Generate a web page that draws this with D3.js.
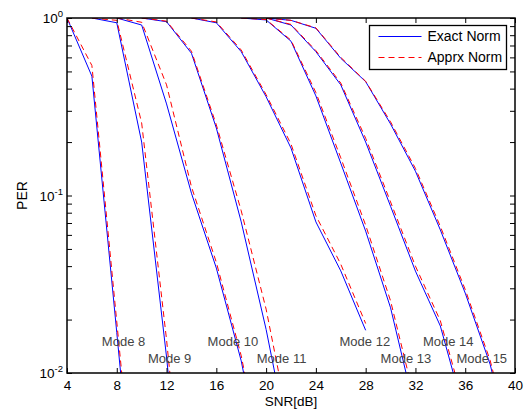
<!DOCTYPE html>
<html>
<head>
<meta charset="utf-8">
<script src="https://cdn.jsdelivr.net/npm/d3@7"></script>
<style>
body { margin: 0; background: #fff; }
text { font-family: "Liberation Sans", Arial, sans-serif; }
</style>
</head>
<body>
<div id="container"></div>
<script>
// chart values
var modeNames = ["Mode 8", "Mode 9", "Mode 10", "Mode 11", "Mode 12", "Mode 13", "Mode 14", "Mode 15"];
var snrStart = [4, 6, 8, 10, 14, 18, 20, 20];   // first SNR of each curve, 2 dB steps
var exactPer = [
  [1, 0.47, 0.0169, 0.00058],
  [1, 0.94, 0.2, 0.0123, 0.0005],
  [1, 0.913, 0.328, 0.103, 0.039, 0.0117, 0.0023],
  [1, 0.953, 0.633, 0.24, 0.071, 0.0176, 0.0035],
  [1, 0.94, 0.646, 0.36, 0.185, 0.071, 0.0376, 0.0174],
  [1, 0.975, 0.74, 0.364, 0.152, 0.063, 0.0233, 0.006],
  [1, 0.913, 0.646, 0.42, 0.2, 0.087, 0.0375, 0.0184, 0.0057],
  [1, 0.97, 0.875, 0.593, 0.438, 0.253, 0.137, 0.064, 0.0282, 0.0112, 0.003]
];
var apprxPer = [
  [1, 0.54, 0.0194, 0.0007],
  [1, 0.97, 0.256, 0.0154, 0.0006],
  [1, 0.946, 0.42, 0.112, 0.042, 0.0125, 0.0025],
  [1, 0.96, 0.65, 0.25, 0.082, 0.0229, 0.0045],
  [1, 0.95, 0.66, 0.37, 0.195, 0.077, 0.041, 0.019],
  [1, 0.98, 0.75, 0.38, 0.163, 0.068, 0.0255, 0.0068],
  [1, 0.92, 0.655, 0.43, 0.21, 0.092, 0.04, 0.0197, 0.0062],
  [1, 0.97, 0.88, 0.6, 0.44, 0.26, 0.142, 0.067, 0.0295, 0.0118, 0.0033]
];
// text annotations, in data units
var labelSnr = [6.8, 10.5, 15.3, 19.25, 25.9, 29.2, 32.6, 35.3];
var labelPer = [0.015, 0.012, 0.015, 0.012, 0.015, 0.012, 0.015, 0.012];
var xTicks = [4, 8, 12, 16, 20, 24, 28, 32, 36, 40];
var yTicks = [1, 0.1, 0.01];
var yTickExp = ["0", "-1", "-2"];
var yMinor = [0.02, 0.03, 0.04, 0.05, 0.06, 0.07, 0.08, 0.09, 0.2, 0.3, 0.4, 0.5, 0.6, 0.7, 0.8, 0.9];
var legendNames = ["Exact Norm", "Apprx Norm"];

var w = 530, h = 409;
var svg = d3.select("#container").append("svg")
    .attr("width", w).attr("height", h)
    .style("background-color", "white");

var x = d3.scaleLinear().domain([4, 40]).range([67, 515]);
var y = d3.scaleLog().domain([0.01, 1]).range([373, 18]);

svg.append("clipPath").attr("id", "plotclip")
  .append("rect")
    .attr("x", x.range()[0]).attr("y", y.range()[1])
    .attr("width", x.range()[1] - x.range()[0])
    .attr("height", y.range()[0] - y.range()[1]);

// build series (snr, per) from the arrays
function series(vals, k) {
  return vals.map(function(v, i) { return {snr: snrStart[k] + 2 * i, per: v}; });
}
var line = d3.line()
    .x(function(d) { return x(d.snr); })
    .y(function(d) { return y(Math.max(d.per, 1e-6)); });

var curves = svg.append("g").attr("clip-path", "url(#plotclip)");
curves.selectAll("path.exact")
  .data(exactPer.map(series))
  .enter().append("path")
    .attr("class", "exact")
    .attr("d", line)
    .attr("fill", "none")
    .attr("stroke", "#0000ff")
    .attr("stroke-width", 1);
curves.selectAll("path.apprx")
  .data(apprxPer.map(series))
  .enter().append("path")
    .attr("class", "apprx")
    .attr("d", line)
    .attr("fill", "none")
    .attr("stroke", "#ff0000")
    .attr("stroke-width", 1)
    .attr("stroke-dasharray", "6,4");

// axes: ticks point inward like matlab
var tl = 5;
svg.append("g")
    .attr("transform", "translate(0," + y.range()[0] + ")")
    .call(d3.axisBottom(x).tickValues(xTicks).tickSize(-tl).tickPadding(7))
    .call(function(g) {
      g.select(".domain").remove();
      g.selectAll("text").attr("font-size", 13.5).attr("fill", "#000")
        .attr("font-family", "Liberation Sans, Arial, sans-serif");
    });
svg.append("g")
    .attr("transform", "translate(0," + y.range()[1] + ")")
    .call(d3.axisTop(x).tickValues(xTicks).tickSize(-tl).tickFormat(""))
    .call(function(g) { g.select(".domain").remove(); });

var yAll = yTicks.concat(yMinor);
svg.append("g")
    .attr("transform", "translate(" + x.range()[0] + ",0)")
    .call(d3.axisLeft(y).tickValues(yAll).tickSize(-tl).tickFormat(""))
    .call(function(g) { g.select(".domain").remove(); });
svg.append("g")
    .attr("transform", "translate(" + x.range()[1] + ",0)")
    .call(d3.axisRight(y).tickValues(yAll).tickSize(-tl).tickFormat(""))
    .call(function(g) { g.select(".domain").remove(); });

// y labels as 10^n
var ylab = svg.append("g").selectAll("text")
  .data(yTicks)
  .enter().append("text")
    .attr("x", x.range()[0] - 4)
    .attr("y", function(d) { return y(d) + 5; })
    .attr("text-anchor", "end")
    .attr("font-size", 13.5);
ylab.append("tspan").text("10");
ylab.append("tspan")
    .attr("dy", -6)
    .attr("font-size", 9.5)
    .text(function(d, i) { return yTickExp[i]; });

// box
svg.append("rect")
    .attr("x", x.range()[0]).attr("y", y.range()[1])
    .attr("width", x.range()[1] - x.range()[0])
    .attr("height", y.range()[0] - y.range()[1])
    .attr("fill", "none")
    .attr("stroke", "#000")
    .attr("stroke-width", 1.5);

// axis titles
svg.append("text")
    .attr("x", (x.range()[0] + x.range()[1]) / 2)
    .attr("y", 406)
    .attr("text-anchor", "middle")
    .attr("font-size", 13.5)
    .text("SNR[dB]");
svg.append("text")
    .attr("transform", "translate(27," + (y.range()[0] + y.range()[1]) / 2 + ") rotate(-90)")
    .attr("text-anchor", "middle")
    .attr("font-size", 14)
    .text("PER");

// mode labels
svg.append("g").selectAll("text")
  .data(modeNames)
  .enter().append("text")
    .attr("x", function(d, i) { return x(labelSnr[i]); })
    .attr("y", function(d, i) { return y(labelPer[i]); })
    .attr("dy", "0.35em")
    .attr("font-size", 13)
    .attr("fill", "#444")
    .text(function(d) { return d; });

// legend
var lg = svg.append("g").attr("transform", "translate(369.5,25.5)");
lg.append("rect")
    .attr("width", 137).attr("height", 44)
    .attr("fill", "white")
    .attr("stroke", "#000")
    .attr("stroke-width", 1.3);
var lgColors = ["#0000ff", "#ff0000"];
var lgDash = [null, "6,4"];
var item = lg.selectAll("g.item")
  .data(legendNames)
  .enter().append("g")
    .attr("class", "item")
    .attr("transform", function(d, i) { return "translate(0," + (11 + i * 21) + ")"; });
item.append("line")
    .attr("x1", 9).attr("x2", 52)
    .attr("stroke", function(d, i) { return lgColors[i]; })
    .attr("stroke-dasharray", function(d, i) { return lgDash[i]; })
    .attr("stroke-width", 1);
item.append("text")
    .attr("x", 58)
    .attr("dy", "0.35em")
    .attr("font-size", 14)
    .text(function(d) { return d; });
</script>
</body>
</html>
